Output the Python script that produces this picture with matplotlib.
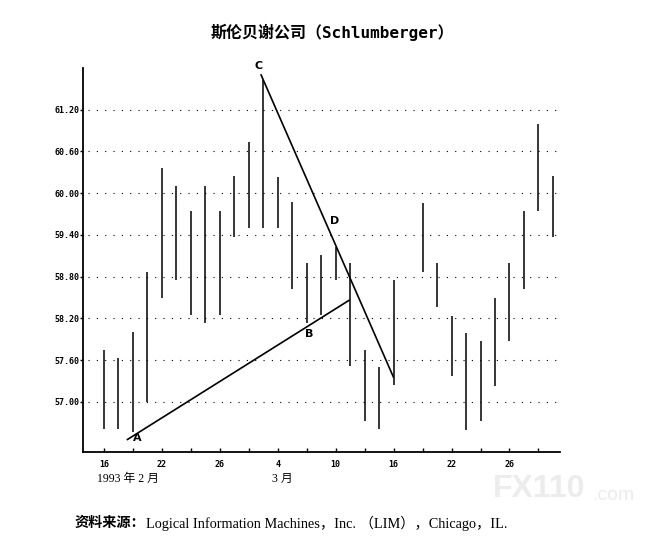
import numpy as np
import matplotlib
matplotlib.use('Agg')
import matplotlib.pyplot as plt

# daily high / low, trading days from 1993-02-16 (bar 21 missing in source)
highs = [57.75, 57.63, 58.01, 58.87, 60.36, 60.11, 59.75, 60.11, 59.75, 60.25,
         60.74, 61.63, 60.24, 59.87, 59.00, 59.11, 59.23, 58.99, 57.75, 57.50,
         58.75, np.nan, 59.86, 58.99, 58.24, 57.99, 57.87, 58.49, 58.99, 59.74,
         60.99, 60.25]
lows = [56.61, 56.61, 56.57, 57.00, 58.49, 58.75, 58.25, 58.13, 58.25, 59.37,
        59.50, 59.50, 59.50, 58.63, 58.13, 58.25, 58.75, 57.51, 56.73, 56.61,
        57.24, np.nan, 58.87, 58.37, 57.37, 56.60, 56.73, 57.23, 57.88, 58.62,
        59.75, 59.37]
days = np.arange(len(highs))

yticks = [57.00, 57.60, 58.20, 58.80, 59.40, 60.00, 60.60, 61.20]
xtick_pos = np.arange(0, 31, 2)
xtick_lab = ['16', '', '22', '', '26', '', '4', '', '10', '', '16', '', '22', '', '26', '']

# trend lines (day, price)
line_ab = [(1.62, 56.46), (16.92, 58.46)]
line_cd = [(10.85, 61.70), (19.98, 57.36)]
letters = {'A': (2.3, 56.48), 'B': (14.16, 57.98), 'C': (10.7, 61.83), 'D': (15.9, 59.60)}

fig = plt.figure(figsize=(6.72, 5.38), dpi=100)
ax = fig.add_axes([83 / 672, 1 - 452 / 538, 477 / 672, 384 / 538])

ax.vlines(days, lows, highs, color='black', lw=1.1)

for (x0, y0), (x1, y1) in [line_ab, line_cd]:
    ax.plot([x0, x1], [y0, y1], color='black', lw=1.2, clip_on=False)

for k, (x, y) in letters.items():
    ax.text(x, y, k, fontsize=8, fontweight='bold', ha='center', va='center',
            family='DejaVu Sans', clip_on=False)

ax.hlines(yticks, -1.1, 31.2, colors='black', lw=0.8, linestyles=(0, (1, 6.5)))

ax.set_xlim(-1.45, 31.49)
ax.set_ylim(56.28, 61.80)
ax.set_yticks(yticks)
ax.set_yticklabels(['%.2f' % v for v in yticks])
ax.set_xticks(xtick_pos)
ax.set_xticklabels(xtick_lab)
ax.tick_params(axis='y', direction='out', length=2, width=1, pad=0.5, labelsize=6)
ax.tick_params(axis='x', direction='in', length=3, width=1, pad=6, labelsize=6)
for lab in ax.get_xticklabels() + ax.get_yticklabels():
    lab.set_fontweight('bold')
    lab.set_family('DejaVu Sans Mono')

for s in ['top', 'right']:
    ax.spines[s].set_visible(False)
for s in ['left', 'bottom']:
    ax.spines[s].set_linewidth(1.3)

fig.text(0.495, 1 - 32 / 538, '斯伦贝谢公司（Schlumberger）', ha='center', va='center',
         fontsize=11.5, fontweight='bold', family=['DejaVu Sans Mono', 'Noto Sans CJK SC'])

serif = ['Liberation Serif', 'Noto Sans CJK SC']
tr = ax.get_xaxis_transform()
ax.text(-0.48, -0.07, '1993 年 2 月', transform=tr, ha='left', va='center',
        fontsize=8.5, family=serif)
ax.text(11.6, -0.07, '3 月', transform=tr, ha='left', va='center',
        fontsize=8.5, family=serif)

t1 = fig.text(75 / 672, 1 - 523 / 538, '资料来源：', ha='left', va='center',
              fontsize=10.2, fontweight='bold', family='Noto Sans CJK SC')
fig.canvas.draw()
ax.annotate('Logical Information Machines，Inc. （LIM），Chicago，IL.',
            xy=(1, 0.5), xycoords=t1, ha='left', va='center',
            fontsize=10.3, family=serif, annotation_clip=False)

# watermark
fig.text(493 / 672, 1 - 489 / 538, 'FX110', ha='left', va='center', fontsize=23,
         fontweight='bold', color='#ececec', family='Liberation Sans')
fig.text(592 / 672, 1 - 495 / 538, '.com', ha='left', va='center', fontsize=14,
         color='#ececec', family='Liberation Sans')

fig.savefig('out.png', dpi=100)
